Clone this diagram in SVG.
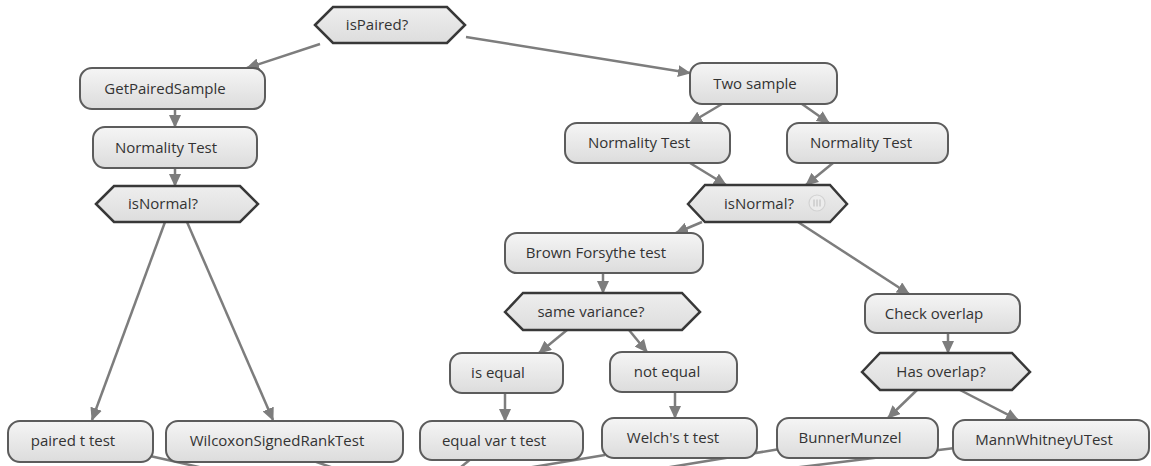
<svg xmlns="http://www.w3.org/2000/svg" width="1151" height="466" viewBox="0 0 1151 466">
<defs>
<linearGradient id="gBox" x1="0" y1="0" x2="0" y2="1">
<stop offset="0" stop-color="#f5f5f5"/>
<stop offset="1" stop-color="#dcdcdc"/>
</linearGradient>
<linearGradient id="gHex" x1="0" y1="0" x2="0" y2="1">
<stop offset="0" stop-color="#eeeeee"/>
<stop offset="1" stop-color="#dddddd"/>
</linearGradient>
<marker id="ah" markerUnits="userSpaceOnUse" markerWidth="13" markerHeight="12" refX="12" refY="6" orient="auto">
<path d="M0,0 L13,6 L0,12 z" fill="#7d7d7d"/>
</marker>
</defs>
<style>
.box{fill:url(#gBox);stroke:#5c5c5c;stroke-width:2}
.hex{fill:url(#gHex);stroke:#383838;stroke-width:2.5}
.lbl{font-family:"Open Sans","Noto Sans",sans-serif;font-size:15px;fill:#333;text-anchor:middle}
.c{stroke:#7d7d7d;stroke-width:2.5;fill:none}
.a{marker-end:url(#ah)}
</style>
<rect width="1151" height="466" fill="#ffffff"/>
<g id="connectors">
<line class="c a" x1="320" y1="44" x2="247" y2="68"/>
<line class="c a" x1="466" y1="37" x2="690" y2="73"/>
<line class="c a" x1="175" y1="109" x2="175" y2="127"/>
<line class="c a" x1="175" y1="168" x2="175" y2="186"/>
<line class="c a" x1="165" y1="222" x2="92" y2="420"/>
<line class="c a" x1="187" y1="222" x2="273" y2="420"/>
<line class="c a" x1="722" y1="104" x2="690" y2="123"/>
<line class="c a" x1="802" y1="104" x2="829" y2="123"/>
<line class="c a" x1="690" y1="163" x2="726" y2="185"/>
<line class="c a" x1="833" y1="163" x2="806" y2="185"/>
<line class="c a" x1="702" y1="222" x2="676" y2="233"/>
<line class="c a" x1="798" y1="222" x2="909" y2="294"/>
<line class="c a" x1="603" y1="273" x2="603" y2="293"/>
<line class="c a" x1="567" y1="330" x2="539" y2="353"/>
<line class="c a" x1="629" y1="330" x2="647" y2="352"/>
<line class="c a" x1="505" y1="393" x2="505" y2="421"/>
<line class="c a" x1="675" y1="392" x2="675" y2="418"/>
<line class="c a" x1="948" y1="333" x2="948" y2="353"/>
<line class="c a" x1="917" y1="390" x2="888" y2="418"/>
<line class="c a" x1="960" y1="390" x2="1018" y2="420"/>
<line class="c" x1="150" y1="456" x2="230" y2="474"/>
<line class="c" x1="305" y1="458" x2="345" y2="472"/>
<line class="c" x1="472" y1="458" x2="455" y2="472"/>
<line class="c" x1="605" y1="455" x2="515" y2="470"/>
<line class="c" x1="780" y1="449" x2="640" y2="472"/>
<line class="c" x1="955" y1="448" x2="760" y2="472"/>
</g>
<g id="isPaired"><polygon class="hex" points="315,25 333,7 447,7 465,25 447,43 333,43"/><text class="lbl" x="377" y="30">isPaired?</text></g>
<g id="getPairedSample"><rect class="box" x="80" y="68" width="185" height="41" rx="12"/><text class="lbl" x="165" y="94">GetPairedSample</text></g>
<g id="normalityLeft"><rect class="box" x="93" y="127" width="164" height="41" rx="12"/><text class="lbl" x="166" y="153">Normality Test</text></g>
<g id="isNormalLeft"><polygon class="hex" points="96,204 114,186 240,186 258,204 240,222 114,222"/><text class="lbl" x="163" y="209">isNormal?</text></g>
<g id="twoSample"><rect class="box" x="690" y="63" width="147" height="41" rx="12"/><text class="lbl" x="755" y="89">Two sample</text></g>
<g id="normalityMid"><rect class="box" x="565" y="123" width="165" height="40" rx="12"/><text class="lbl" x="639" y="148">Normality Test</text></g>
<g id="normalityRight"><rect class="box" x="787" y="123" width="161" height="40" rx="12"/><text class="lbl" x="861" y="148">Normality Test</text></g>
<g id="isNormalRight"><polygon class="hex" points="688,204 705,185 830,185 847,204 830,222 705,222"/><text class="lbl" x="759" y="209">isNormal?</text>
<circle cx="817" cy="203" r="8" fill="#ececec" stroke="#d2d2d2" stroke-width="1.2"/>
<path d="M814,199.5 V206.5 M817,199.5 V206.5 M820,199.5 V206.5" stroke="#c4c4c4" stroke-width="1.2"/></g>
<g id="brownForsythe"><rect class="box" x="505" y="233" width="198" height="40" rx="12"/><text class="lbl" x="596" y="258">Brown Forsythe test</text></g>
<g id="sameVariance"><polygon class="hex" points="505,312 523,293 682,293 700,312 682,330 523,330"/><text class="lbl" x="591" y="317">same variance?</text></g>
<g id="checkOverlap"><rect class="box" x="865" y="294" width="155" height="39" rx="12"/><text class="lbl" x="934" y="319">Check overlap</text></g>
<g id="hasOverlap"><polygon class="hex" points="862,372 880,353 1012,353 1030,372 1012,390 880,390"/><text class="lbl" x="941" y="377">Has overlap?</text></g>
<g id="isEqual"><rect class="box" x="450" y="353" width="113" height="40" rx="12"/><text class="lbl" x="498" y="378">is equal</text></g>
<g id="notEqual"><rect class="box" x="610" y="352" width="127" height="40" rx="12"/><text class="lbl" x="667" y="377">not equal</text></g>
<g id="pairedT"><rect class="box" x="8" y="421" width="145" height="41" rx="12"/><text class="lbl" x="73" y="446">paired t test</text></g>
<g id="wilcoxon"><rect class="box" x="166" y="421" width="237" height="41" rx="12"/><text class="lbl" x="277" y="446">WilcoxonSignedRankTest</text></g>
<g id="equalVarT"><rect class="box" x="420" y="421" width="163" height="39" rx="12"/><text class="lbl" x="494" y="446">equal var t test</text></g>
<g id="welchT"><rect class="box" x="602" y="418" width="155" height="40" rx="12"/><text class="lbl" x="673" y="443">Welch's t test</text></g>
<g id="bunnerMunzel"><rect class="box" x="777" y="418" width="161" height="40" rx="12"/><text class="lbl" x="850" y="443">BunnerMunzel</text></g>
<g id="mannWhitney"><rect class="box" x="953" y="420" width="196" height="40" rx="12"/><text class="lbl" x="1044" y="445">MannWhitneyUTest</text></g>
</svg>
